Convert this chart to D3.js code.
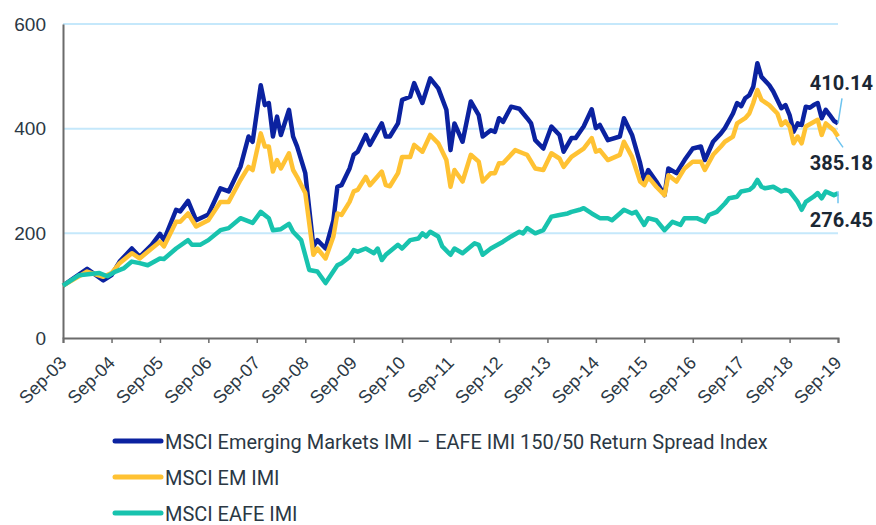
<!DOCTYPE html>
<html>
<head>
<meta charset="utf-8">
<script src="https://cdn.jsdelivr.net/npm/d3@7"></script>
<style>
  body { margin: 0; background: #fff; }
  svg { font-family: Roboto, "Noto Sans", sans-serif; }
  .axis text { fill: #2b3844; }
</style>
</head>
<body>
<svg id="chart"></svg>
<script>
// x ticks (every September)
const tickDates = ['2003-09','2004-09','2005-09','2006-09','2007-09','2008-09','2009-09','2010-09',
  '2011-09','2012-09','2013-09','2014-09','2015-09','2016-09','2017-09','2018-09','2019-09'];
const yTicks = [0, 200, 400, 600];

// MSCI Emerging Markets IMI – EAFE IMI 150/50 Return Spread Index
const spreadDates = ['2003-09','2004-03','2004-07','2004-09','2004-11','2005-02','2005-04','2005-07','2005-09','2005-10',
  '2006-01','2006-02','2006-04','2006-06','2006-09','2006-12','2007-02','2007-05','2007-07','2007-08','2007-10','2007-11',
  '2007-12','2008-01','2008-02','2008-03','2008-05','2008-06','2008-07','2008-09','2008-11','2008-12','2009-02','2009-04',
  '2009-05','2009-06','2009-08','2009-09','2009-10','2009-12','2010-01','2010-04','2010-05','2010-06','2010-08','2010-09',
  '2010-11','2010-12','2011-02','2011-04','2011-06','2011-08','2011-09','2011-10','2011-12','2012-02','2012-04','2012-05',
  '2012-07','2012-08','2012-09','2012-10','2012-12','2013-02','2013-04','2013-05','2013-06','2013-08','2013-10','2013-12',
  '2014-01','2014-03','2014-04','2014-06','2014-08','2014-09','2014-10','2014-12','2015-03','2015-04','2015-06','2015-08',
  '2015-09','2015-10','2015-12','2016-02','2016-03','2016-05','2016-07','2016-09','2016-11','2016-12','2017-02','2017-04',
  '2017-05','2017-07','2017-08','2017-09','2017-10','2017-11','2017-12','2018-01','2018-02','2018-04','2018-05','2018-07',
  '2018-08','2018-09','2018-10','2018-11','2018-12','2019-01','2019-02','2019-03','2019-04','2019-05','2019-06','2019-07',
  '2019-08','2019-09'];
const spreadValues = [100,132,110,120,146,171,155,178,199,187,
  245,242,262,225,236,286,280,327,385,375,483,445,
  449,385,423,388,436,385,366,315,175,187,171,225,
  289,292,324,350,356,388,369,410,385,385,410,455,
  461,487,449,496,477,436,359,410,375,452,426,385,
  397,394,420,413,442,438,420,410,378,362,404,388,
  356,382,382,404,437,401,407,378,385,420,388,334,
  299,321,299,273,324,315,340,362,366,340,375,391,
  401,429,449,443,458,464,480,525,499,483,471,439,
  445,426,394,410,407,442,440,445,449,420,436,426,
  415,410.14];

// MSCI EM IMI
const emDates = ['2003-09','2004-03','2004-07','2004-09','2004-11','2005-02','2005-04','2005-07','2005-09','2005-10',
  '2006-01','2006-02','2006-04','2006-06','2006-09','2006-12','2007-02','2007-05','2007-07','2007-08','2007-10','2007-11',
  '2007-12','2008-01','2008-02','2008-03','2008-05','2008-06','2008-07','2008-09','2008-11','2008-12','2009-02','2009-04',
  '2009-05','2009-06','2009-08','2009-09','2009-10','2009-12','2010-01','2010-04','2010-05','2010-06','2010-08','2010-09',
  '2010-11','2010-12','2011-02','2011-04','2011-06','2011-08','2011-09','2011-10','2011-12','2012-02','2012-04','2012-05',
  '2012-07','2012-08','2012-09','2012-10','2013-01','2013-03','2013-04','2013-06','2013-08','2013-10','2013-12',
  '2014-01','2014-03','2014-06','2014-08','2014-09','2014-10','2014-12','2015-03','2015-04','2015-06','2015-08',
  '2015-09','2015-10','2015-12','2016-02','2016-03','2016-05','2016-07','2016-09','2016-11','2016-12','2017-02','2017-04',
  '2017-05','2017-07','2017-08','2017-10','2017-11','2017-12','2018-01','2018-02','2018-04','2018-06','2018-07',
  '2018-08','2018-09','2018-10','2018-11','2018-12','2019-01','2019-04','2019-05','2019-06','2019-08','2019-09'];
const emValues = [100,127,117,124,143,162,152,171,184,175,
  222,222,238,213,225,260,260,302,327,321,391,366,
  366,318,340,324,353,321,308,277,159,171,152,194,
  238,235,260,280,283,308,292,318,292,290,315,346,
  346,369,356,388,372,340,289,321,299,350,337,299,
  315,315,334,334,359,353,350,324,321,353,343,
  327,346,362,382,356,359,340,350,375,346,299,
  292,308,289,273,311,299,324,337,337,321,350,366,
  375,385,410,420,429,449,474,455,445,429,407,
  414,404,372,385,372,404,417,388,410,397,385.18];

// MSCI EAFE IMI
const eafeDates = ['2003-09','2004-01','2004-06','2004-08','2004-10','2004-12','2005-02','2005-04','2005-06','2005-09',
  '2005-10','2006-01','2006-04','2006-05','2006-07','2006-09','2006-12','2007-02','2007-05','2007-08','2007-10','2007-12',
  '2008-01','2008-03','2008-05','2008-06','2008-08','2008-10','2008-12','2009-02','2009-05','2009-06','2009-08','2009-09',
  '2009-10','2009-12','2010-02','2010-03','2010-04','2010-05','2010-08','2010-09','2010-11','2011-01','2011-02','2011-03',
  '2011-04','2011-06','2011-07','2011-09','2011-10','2011-12','2012-03','2012-04','2012-05','2012-07','2012-10','2012-12',
  '2013-02','2013-03','2013-04','2013-06','2013-08','2013-10','2013-12','2014-02','2014-03','2014-05','2014-06','2014-08',
  '2014-10','2014-12','2015-01','2015-03','2015-04','2015-06','2015-07','2015-09','2015-10','2015-12','2016-02','2016-04',
  '2016-06','2016-07','2016-10','2016-12','2017-01','2017-03','2017-05','2017-06','2017-08','2017-09','2017-11','2017-12',
  '2018-01','2018-02','2018-03','2018-05','2018-07','2018-08','2018-09','2018-11','2018-12','2019-01','2019-03','2019-04',
  '2019-05','2019-06','2019-08','2019-09'];
const eafeValues = [100,120,124,118,127,133,146,143,139,152,
  151,171,187,178,178,187,206,210,229,220,241,229,
  206,208,218,203,187,130,127,105,139,143,155,168,
  165,171,162,171,149,159,178,171,187,190,200,194,
  203,194,175,159,171,162,181,178,159,171,184,194,
  203,200,210,200,206,232,235,238,241,245,248,238,
  229,229,225,238,245,238,241,216,229,225,206,222,
  216,229,229,222,235,241,257,267,270,280,283,289,
  302,289,286,289,280,283,280,260,245,260,270,277,
  267,280,273,276.45];

const seriesNames = ['MSCI Emerging Markets IMI \u2013 EAFE IMI 150/50 Return Spread Index', 'MSCI EM IMI', 'MSCI EAFE IMI'];
const seriesColors = ['#0b22a0', '#ffc233', '#18c3ae'];

const parseMonth = d3.timeParse('%Y-%m');
const toPoints = (dates, values) => dates.map((d, i) => ({ date: parseMonth(d), value: values[i] }));
const series = [
  { name: seriesNames[0], color: seriesColors[0], points: toPoints(spreadDates, spreadValues), labelDy: -33, leader: [[0, 0], [4, -25]] },
  { name: seriesNames[1], color: seriesColors[1], points: toPoints(emDates, emValues), labelDy: 34, leader: [[-2, 1], [5, 11]] },
  { name: seriesNames[2], color: seriesColors[2], points: toPoints(eafeDates, eafeValues), labelDy: 34, leader: [[0, -2], [0, 10]] }
];

const width = 876, height = 525;
const margin = { top: 24, right: 38, bottom: 187, left: 63 };
const innerW = width - margin.left - margin.right;
const innerH = height - margin.top - margin.bottom;

const svg = d3.select('#chart').attr('width', width).attr('height', height);
const chart = svg.append('g').attr('transform', `translate(${margin.left},${margin.top})`);

const xScale = d3.scaleTime()
  .domain([parseMonth(tickDates[0]), parseMonth(tickDates[tickDates.length - 1])])
  .range([0, innerW]);
const yScale = d3.scaleLinear().domain([0, 600]).range([innerH, 0]);

// gridlines
chart.append('g')
  .selectAll('line')
  .data(yTicks.filter(d => d > 0))
  .join('line')
  .attr('x1', 0).attr('x2', innerW)
  .attr('y1', d => yScale(d)).attr('y2', d => yScale(d))
  .attr('stroke', '#c5e8fb').attr('stroke-width', 2);

// y axis
const yAxisG = chart.append('g').attr('class', 'axis')
  .call(d3.axisLeft(yScale).tickValues(yTicks).tickSize(0).tickPadding(17));
yAxisG.select('.domain').attr('stroke', '#6b6b6b').attr('stroke-width', 2);
yAxisG.selectAll('text').style('font-size', '19px');

// x axis
const xAxisG = chart.append('g').attr('class', 'axis')
  .attr('transform', `translate(0,${innerH})`)
  .call(d3.axisBottom(xScale).tickValues(tickDates.map(parseMonth)).tickSize(5).tickFormat(d3.timeFormat('%b-%y')));
xAxisG.select('.domain').attr('stroke', '#6b6b6b').attr('stroke-width', 2);
xAxisG.selectAll('.tick line').attr('stroke', '#6b6b6b').attr('stroke-width', 1.5);
xAxisG.selectAll('text')
  .style('font-size', '18px')
  .style('text-anchor', 'end')
  .attr('dy', 0)
  .attr('y', 0)
  .attr('transform', 'translate(4,26) rotate(-45)');

// lines
const line = d3.line().x(d => xScale(d.date)).y(d => yScale(d.value));
chart.selectAll('.series')
  .data(series)
  .join('path')
  .attr('class', 'series')
  .attr('d', d => line(d.points))
  .attr('fill', 'none')
  .attr('stroke', d => d.color)
  .attr('stroke-width', 4.5)
  .attr('stroke-linejoin', 'round');

// end labels with leader lines
series.forEach(s => {
  const last = s.points[s.points.length - 1];
  const ex = xScale(last.date), ey = yScale(last.value);
  chart.append('line')
    .attr('x1', ex + s.leader[0][0]).attr('y1', ey + s.leader[0][1])
    .attr('x2', ex + s.leader[1][0]).attr('y2', ey + s.leader[1][1])
    .attr('stroke', '#6cc3ef').attr('stroke-width', 1.5);
  chart.append('text')
    .attr('x', ex + 35).attr('y', ey + s.labelDy)
    .attr('text-anchor', 'end')
    .style('font-size', '20px').style('font-weight', 'bold')
    .attr('fill', '#1b2733')
    .text(d3.format('.2f')(last.value));
});

// legend (text slightly condensed, like the source)
const legend = svg.append('g').attr('transform', 'translate(115,441)');
const item = legend.selectAll('g').data(series).join('g')
  .attr('transform', (d, i) => `translate(0,${i * 36})`);
item.append('line')
  .attr('x1', 0).attr('x2', 46).attr('y1', 0).attr('y2', 0)
  .attr('stroke', d => d.color).attr('stroke-width', 5).attr('stroke-linecap', 'round');
item.append('text')
  .attr('transform', 'translate(50,7.5) scale(0.95,1)')
  .style('font-size', '21px').attr('fill', '#2b3844')
  .text(d => d.name);
</script>
</body>
</html>
